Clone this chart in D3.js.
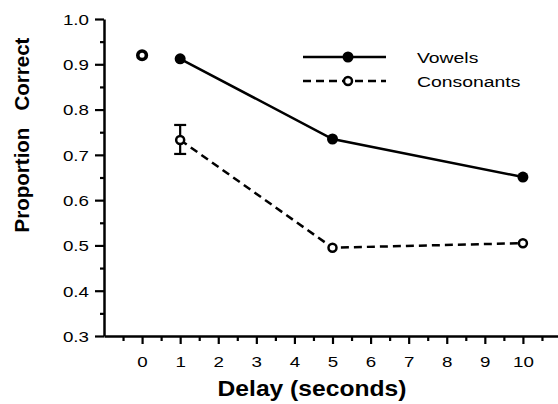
<!DOCTYPE html>
<html>
<head>
<meta charset="utf-8">
<script src="https://cdn.jsdelivr.net/npm/d3@7"></script>
<style>
	body { margin: 0; background: #fff; }
	svg { display: block; }
	text { font-family: "Liberation Sans", Arial, sans-serif; fill: #000; }
	.tick text { font-size: 15px; }
</style>
</head>
<body>
<div id="chart"></div>
<script>
// data
const delays = [1, 5, 10];
const vowels = [0.912, 0.735, 0.651];
const consonants = [0.733, 0.495, 0.505];
const consonantErrorDelay = 1;
const consonantError = [0.702, 0.766];
const baselineDelay = 0;
const baseline = 0.92;
const xTicks = [0, 1, 2, 3, 4, 5, 6, 7, 8, 9, 10];
const yTicks = [0.3, 0.4, 0.5, 0.6, 0.7, 0.8, 0.9, 1.0];
const legendLabels = ["Vowels", "Consonants"];

// the scan is stretched sideways, so text is widened a bit
function widen(sel, k) {
	sel.each(function () {
		const t = d3.select(this);
		t.attr("x", (+t.attr("x") || 0) / k).attr("transform", "scale(" + k + ",1)");
	});
}

(function (d3) {
	"use strict";
	const width = 558, height = 404;

	const svg = d3.select("#chart")
		.append("svg")
		.attr("width", width)
		.attr("height", height);

	const x = d3.scaleLinear().domain([-1, 11]).range([104, 561]);
	const y = d3.scaleLinear().domain([0.3, 1.0]).range([336, 19]);

	// minor ticks
	svg.append("g")
		.attr("transform", "translate(" + x(-1) + ",0)")
		.call(d3.axisLeft(y).tickValues(d3.range(0.35, 1.0, 0.1)).tickSize(4).tickFormat(""))
		.call(g => g.select(".domain").remove())
		.selectAll("line").attr("stroke-width", 2.2);
	svg.append("g")
		.attr("transform", "translate(0," + y(0.3) + ")")
		.call(d3.axisBottom(x).tickValues(d3.range(-0.5, 11, 1)).tickSize(5).tickFormat(""))
		.call(g => g.select(".domain").remove())
		.selectAll("line").attr("stroke-width", 2.2);

	// y axis
	const yAxis = svg.append("g")
		.attr("transform", "translate(" + x(-1) + ",0)")
		.call(d3.axisLeft(y).tickValues(yTicks).tickSize(9).tickSizeOuter(0).tickPadding(6).tickFormat(d3.format(".1f")));
	yAxis.select(".domain").attr("stroke-width", 2.5);
	yAxis.selectAll("line").attr("stroke-width", 2.2);
	yAxis.selectAll("text").attr("dy", "0.36em").call(widen, 1.25);

	// x axis
	const xAxis = svg.append("g")
		.attr("transform", "translate(0," + y(0.3) + ")")
		.call(d3.axisBottom(x).tickValues(xTicks).tickSize(8).tickSizeOuter(0).tickPadding(12));
	xAxis.select(".domain").attr("stroke-width", 2.5);
	xAxis.selectAll("line").attr("stroke-width", 2.2);
	xAxis.selectAll("text").call(widen, 1.25);

	// axis titles
	svg.append("text")
		.attr("transform", "translate(312,396) scale(1.12,1)")
		.attr("text-anchor", "middle")
		.style("font-weight", "bold")
		.style("font-size", "22px")
		.text("Delay (seconds)");
	svg.append("text")
		.attr("transform", "translate(29,135) rotate(-90)")
		.attr("text-anchor", "middle")
		.style("font-weight", "bold")
		.style("font-size", "20.5px")
		.style("white-space", "pre")
		.text("Proportion   Correct");

	const line = d3.line().x(d => x(d[0])).y(d => y(d[1]));

	// vowels
	const vData = delays.map((d, i) => [d, vowels[i]]);
	svg.append("path").datum(vData)
		.attr("d", line).attr("fill", "none").attr("stroke", "#000").attr("stroke-width", 2.5);
	svg.selectAll(".vdot").data(vData).enter().append("circle")
		.attr("cx", d => x(d[0])).attr("cy", d => y(d[1])).attr("r", 5.5).attr("fill", "#000");

	// consonants
	const cData = delays.map((d, i) => [d, consonants[i]]);
	svg.append("path").datum(cData)
		.attr("d", line).attr("fill", "none").attr("stroke", "#000")
		.attr("stroke-width", 2.5).attr("stroke-dasharray", "8,5");

	// error bar
	const ex = x(consonantErrorDelay);
	svg.append("line").attr("x1", ex).attr("x2", ex)
		.attr("y1", y(consonantError[0])).attr("y2", y(consonantError[1]))
		.attr("stroke", "#000").attr("stroke-width", 2.2);
	consonantError.forEach(v => {
		svg.append("line").attr("x1", ex - 6).attr("x2", ex + 6)
			.attr("y1", y(v)).attr("y2", y(v))
			.attr("stroke", "#000").attr("stroke-width", 2.2);
	});

	svg.selectAll(".cdot").data(cData).enter().append("circle")
		.attr("cx", d => x(d[0])).attr("cy", d => y(d[1])).attr("r", 4)
		.attr("fill", "#fff").attr("stroke", "#000").attr("stroke-width", 2.5);

	// baseline point at delay 0
	svg.append("circle")
		.attr("cx", x(baselineDelay)).attr("cy", y(baseline)).attr("r", 4.3)
		.attr("fill", "#fff").attr("stroke", "#000").attr("stroke-width", 3.6);

	// legend
	const legend = svg.append("g");
	legendLabels.forEach((label, i) => {
		const ly = 57 + i * 24;
		legend.append("line").attr("x1", 303).attr("x2", 386).attr("y1", ly).attr("y2", ly)
			.attr("stroke", "#000").attr("stroke-width", 2.5)
			.attr("stroke-dasharray", i === 0 ? null : "8,5");
		legend.append("circle").attr("cx", 348).attr("cy", ly).attr("r", i === 0 ? 5.5 : 4)
			.attr("fill", i === 0 ? "#000" : "#fff").attr("stroke", "#000").attr("stroke-width", i === 0 ? 0 : 2.5);
		legend.append("text").attr("x", 417).attr("y", ly).attr("dy", "0.36em")
			.attr("transform", "translate(417,0) scale(1.25,1) translate(-417,0)")
			.style("font-size", "15.5px")
			.text(label);
	});
})(d3);
</script>
</body>
</html>
